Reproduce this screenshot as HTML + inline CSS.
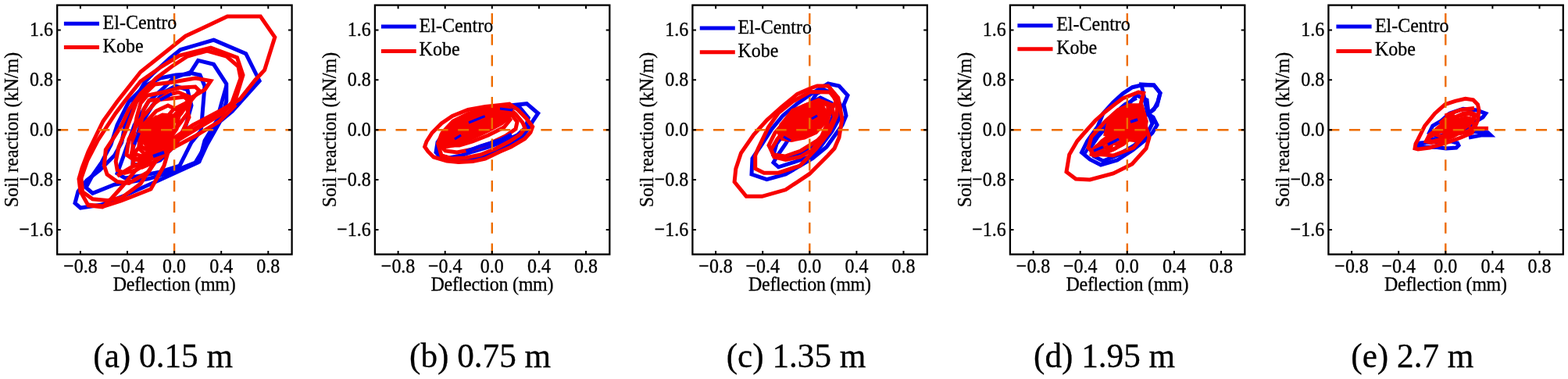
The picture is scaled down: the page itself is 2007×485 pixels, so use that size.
<!DOCTYPE html><html><head><meta charset="utf-8"><style>html,body{margin:0;padding:0;background:#fff;overflow:hidden}svg{display:block}text{font-family:"Liberation Serif", "Times New Roman", serif;fill:#000;stroke:#000;stroke-width:0.3px}</style></head><body>
<svg width="2007" height="485" viewBox="0 0 2007 485">
<rect width="2007" height="485" fill="#fff"/>
<g transform="translate(73.2,0)">
<g fill="none" stroke-width="5" stroke-linejoin="miter" stroke-miterlimit="3" stroke-linecap="butt">
<polygon stroke="#0000f0" points="200.3,51.1 241.5,68.6 258.9,103.5 224.0,142.4 208.8,155.0 191.8,185.0 181.6,207.2 154.2,219.7 131.8,230.0 86.8,250.0 56.8,262.0 29.8,266.0 22.8,260.0 26.8,245.0 37.8,230.7 54.6,217.7 73.2,199.1 82.5,182.4 86.8,160.0 95.5,134.5 103.8,120.0 112.2,104.8 121.8,95.0 143.8,75.0 157.9,63.6"/>
<polyline stroke="#0000f0" points="216.6,110.0 211.6,127.4 204.1,154.9 188.8,180.0 181.6,207.2"/>
<polygon stroke="#0000f0" points="180.4,77.3 200.3,82.3 216.6,107.3 216.6,129.7 210.8,150.0 196.8,175.0 176.8,208.0 146.8,220.0 116.8,228.8 73.2,236.2 45.4,247.4 36.8,240.0 44.8,225.0 56.8,208.0 68.8,185.0 76.8,160.0 91.8,130.0 111.8,110.0 131.8,100.0 151.8,96.0 169.2,94.8"/>
<polygon stroke="#0000f0" points="168.8,93.0 182.8,96.0 188.8,110.0 184.1,167.3 171.7,182.3 156.7,212.2 131.8,220.0 106.8,225.0 86.8,228.0 76.8,222.0 84.8,200.0 98.8,160.0 116.8,130.0 136.8,112.0 148.8,100.0"/>
<polygon stroke="#0000f0" points="151.8,110.0 166.8,115.0 171.8,135.0 164.8,160.0 151.8,185.0 131.8,205.0 111.8,212.0 96.8,210.0 96.8,190.0 106.8,160.0 121.8,135.0 136.8,118.0"/>
<polygon stroke="#f80000" points="217.8,21.0 260.2,21.0 278.6,47.6 265.4,89.8 253.8,102.0 233.8,127.0 211.8,140.0 173.8,160.0 141.8,182.0 106.8,210.0 83.8,238.0 66.8,257.0 57.8,265.0 39.8,263.0 29.8,245.0 27.8,229.0 31.8,215.0 39.8,194.0 58.8,155.0 76.8,130.0 106.8,92.0 164.2,46.2"/>
<polygon stroke="#f80000" points="196.6,61.1 230.3,73.6 237.8,96.0 226.8,132.0 201.8,150.0 174.8,165.0 141.8,185.0 122.8,210.0 106.8,235.0 82.5,253.0 63.9,256.6 45.4,254.8 32.4,245.5 30.8,228.0 38.8,205.0 51.8,180.0 74.8,145.0 86.8,129.0 106.8,104.0 133.8,85.0 156.5,71.1"/>
<polygon stroke="#f80000" points="191.8,65.0 216.8,72.0 231.8,85.0 234.8,100.0 223.8,131.0 211.8,145.0 186.8,160.0 156.8,178.0 131.8,198.0 116.8,220.0 91.8,234.4 76.9,232.5 63.9,223.2 60.2,212.0 62.1,191.7 73.2,175.0 82.5,160.0 91.8,140.0 106.8,120.0 126.8,100.0 146.8,85.0 166.8,72.0"/>
<polygon stroke="#f80000" points="196.6,103.5 189.1,114.7 171.8,125.0 156.8,140.0 138.8,160.0 124.8,185.0 116.8,208.4 101.0,217.7 86.2,221.4 76.9,217.7 75.0,206.5 78.8,188.0 88.8,165.0 101.8,130.0 124.8,108.0 148.8,105.0 176.8,100.0"/>
<polyline stroke="#f80000" points="228.8,134.0 206.8,156.0 176.8,174.0 146.8,190.0 121.8,203.0 94.8,214.0 76.8,225.0"/>
<polyline stroke="#f80000" points="39.8,262.0 59.8,264.0 81.8,257.0 119.8,242.0 136.8,212.0 141.8,195.0"/>
<polygon stroke="#f80000" points="154.8,118.0 171.8,125.0 166.8,145.0 151.8,165.0 131.8,185.0 114.8,200.0 98.8,205.0 88.8,198.0 91.8,178.0 104.8,155.0 124.8,132.0 138.8,122.0"/>
<polygon stroke="#f80000" points="141.8,135.0 156.8,142.0 152.8,165.0 138.8,185.0 121.8,200.0 104.8,206.0 94.8,198.0 98.8,180.0 111.8,158.0 126.8,142.0"/>
<polygon stroke="#f80000" points="126.8,150.0 141.8,155.0 138.8,175.0 126.8,192.0 112.8,198.0 104.8,190.0 108.8,172.0 116.8,158.0"/>
<polygon stroke="#f80000" points="164.8,132.0 168.8,150.0 158.8,172.0 144.8,192.0 126.8,206.0 108.8,214.0 96.8,210.0 98.8,196.0 112.8,178.0 131.8,160.0 148.8,140.0"/>
<polygon stroke="#f80000" points="115.2,122.2 138.7,117.3 156.0,112.3 176.8,111.0 181.8,116.0 171.8,128.0 158.8,142.0 141.8,165.0 124.8,188.0 108.8,200.0 96.8,196.0 96.8,178.0 101.8,150.0 106.8,132.0"/>
<polygon stroke="#f80000" points="117.6,128.4 146.1,126.0 162.8,124.0 168.8,130.0 158.8,145.0 141.8,165.0 126.8,185.0 114.8,192.0 104.8,186.0 106.8,160.0 110.8,140.0"/>
<polygon fill="#f80000" stroke="#f80000" points="118.8,155.0 134.8,147.0 146.8,148.0 146.8,162.0 138.8,178.0 126.8,190.0 116.8,192.0 111.8,182.0 111.8,168.0"/>
<polyline stroke="#0000f0" stroke-width="4" points="131.8,128.0 146.8,120.0"/>
<polyline stroke="#0000f0" stroke-width="4" points="98.8,185.0 104.8,170.0"/>
<polyline stroke="#0000f0" stroke-width="4" points="122.8,200.0 136.8,195.0"/>
</g>
<line x1="0" y1="166.2" x2="300.4" y2="166.2" stroke="#ee6c00" stroke-width="2.4" stroke-dasharray="14 12.56"/>
<line x1="149.9" y1="325.5" x2="149.9" y2="6.6" stroke="#ee6c00" stroke-width="2.4" stroke-dasharray="14.1 12.67"/>
<path d="M29.7 325.5V320.9M29.7 6.6V11.2M89.8 325.5V320.9M89.8 6.6V11.2M149.9 325.5V320.9M149.9 6.6V11.2M210.0 325.5V320.9M210.0 6.6V11.2M270.1 325.5V320.9M270.1 6.6V11.2M0 294.0H4.6M300.4 294.0H295.8M0 230.1H4.6M300.4 230.1H295.8M0 166.2H4.6M300.4 166.2H295.8M0 102.3H4.6M300.4 102.3H295.8M0 38.4H4.6M300.4 38.4H295.8" stroke="#000" stroke-width="2" fill="none"/>
<rect x="0" y="6.6" width="300.4" height="318.9" fill="none" stroke="#000" stroke-width="2.3"/>
<text transform="translate(29.7,348.6) scale(1,1.08)" font-size="24" text-anchor="middle">−0.8</text>
<text transform="translate(89.8,348.6) scale(1,1.08)" font-size="24" text-anchor="middle">−0.4</text>
<text transform="translate(149.9,348.6) scale(1,1.08)" font-size="24" text-anchor="middle">0.0</text>
<text transform="translate(210.0,348.6) scale(1,1.08)" font-size="24" text-anchor="middle">0.4</text>
<text transform="translate(270.1,348.6) scale(1,1.08)" font-size="24" text-anchor="middle">0.8</text>
<text transform="translate(-5.2,302.0) scale(1,1.08)" font-size="24" text-anchor="end">−1.6</text>
<text transform="translate(-5.2,238.1) scale(1,1.08)" font-size="24" text-anchor="end">−0.8</text>
<text transform="translate(-5.2,174.2) scale(1,1.08)" font-size="24" text-anchor="end">0.0</text>
<text transform="translate(-5.2,110.3) scale(1,1.08)" font-size="24" text-anchor="end">0.8</text>
<text transform="translate(-5.2,46.4) scale(1,1.08)" font-size="24" text-anchor="end">1.6</text>
<text transform="translate(149.9,371.8) scale(1,1.08)" font-size="24" letter-spacing="-0.25" text-anchor="middle">Deflection (mm)</text>
<text transform="translate(-50.1,166.1) rotate(-90) scale(1,1.08)" font-size="24" text-anchor="middle">Soil reaction (kN/m)</text>
<line x1="8.7" y1="30.3" x2="53.8" y2="30.3" stroke="#0000f0" stroke-width="5"/>
<line x1="8.7" y1="60.5" x2="53.8" y2="60.5" stroke="#f80000" stroke-width="5"/>
<text transform="translate(58.4,36.7) scale(1,1.08)" font-size="24">El-Centro</text>
<text transform="translate(58.4,66.6) scale(1,1.08)" font-size="24">Kobe</text>
</g>
<text transform="translate(119.3,469.8) scale(1,1.03)" font-size="43.2">(a) 0.15 m</text>
<g transform="translate(479.9,0)">
<g fill="none" stroke-width="5" stroke-linejoin="miter" stroke-miterlimit="3" stroke-linecap="butt">
<polygon stroke="#0000f0" points="176.8,134.5 194.3,132.7 208.8,145.0 201.5,155.9 196.1,165.0 188.1,175.0 175.1,183.0 160.1,191.0 140.1,199.0 120.1,205.0 107.1,207.0 85.1,203.0 78.1,195.0 80.1,182.0 90.1,168.0 105.1,157.0 125.1,148.0 150.1,138.0"/>
<polygon stroke="#0000f0" points="160.1,137.0 186.1,138.4 196.4,150.8 193.1,163.0 182.1,173.0 165.1,181.0 145.1,188.0 125.1,194.0 110.1,199.0 95.1,202.0 83.1,199.0 81.1,190.0 88.1,178.0 102.1,166.0 120.1,155.0 140.1,145.0"/>
<polygon fill="#f80000" stroke="#f80000" points="86.1,170.0 100.1,155.0 120.1,145.0 145.1,139.0 165.1,136.0 172.1,141.0 172.1,149.0 162.1,158.0 145.1,167.0 128.1,175.0 114.1,181.0 100.1,186.0 90.1,188.0 83.1,181.0"/>
<polygon stroke="#f80000" points="172.1,133.0 182.9,140.5 193.7,151.4 201.8,162.2 199.1,169.4 191.9,177.5 174.1,188.0 160.1,194.0 141.1,203.0 125.1,206.6 107.1,207.4 92.1,206.0 75.1,201.0 68.1,194.0 63.7,187.8 66.1,181.0 73.1,170.0 85.1,158.0 99.1,148.5 119.1,140.5 141.1,136.5 160.1,134.5"/>
<polygon stroke="#f80000" points="168.1,136.0 180.1,146.0 189.1,157.0 192.1,164.0 186.1,172.0 172.1,181.0 155.1,190.0 135.1,198.0 116.1,202.0 98.1,203.0 85.1,199.0 80.7,183.6 85.1,172.0 98.1,160.0 116.1,150.0 136.1,142.0 155.1,137.0"/>
<polygon stroke="#f80000" points="165.1,139.0 175.1,147.0 182.1,156.0 180.1,165.0 167.1,174.0 148.1,183.0 125.1,191.0 105.1,195.0 90.1,193.0 83.1,186.0 88.1,175.0 102.1,163.0 120.1,153.0 140.1,145.0"/>
<polygon stroke="#f80000" points="160.1,141.0 169.1,147.0 173.1,153.0 165.1,163.0 145.1,173.0 125.1,181.0 108.1,186.0 95.1,186.0 92.1,178.0 102.1,167.0 120.1,157.0 140.1,148.0"/>
<polyline stroke="#0000f0" points="116.8,193.9 135.1,187.0 160.1,179.4 175.1,172.0"/>
<polyline stroke="#0000f0" stroke-width="3" points="102.1,178.0 110.1,173.0"/>
<polyline stroke="#0000f0" stroke-width="3" points="120.1,157.0 140.7,148.7"/>
<polyline stroke="#0000f0" stroke-width="3" points="160.1,139.0 176.1,141.0"/>
</g>
<line x1="0" y1="166.2" x2="300.4" y2="166.2" stroke="#ee6c00" stroke-width="2.4" stroke-dasharray="14 12.56"/>
<line x1="149.9" y1="325.5" x2="149.9" y2="6.6" stroke="#ee6c00" stroke-width="2.4" stroke-dasharray="14.1 12.67"/>
<path d="M29.7 325.5V320.9M29.7 6.6V11.2M89.8 325.5V320.9M89.8 6.6V11.2M149.9 325.5V320.9M149.9 6.6V11.2M210.0 325.5V320.9M210.0 6.6V11.2M270.1 325.5V320.9M270.1 6.6V11.2M0 294.0H4.6M300.4 294.0H295.8M0 230.1H4.6M300.4 230.1H295.8M0 166.2H4.6M300.4 166.2H295.8M0 102.3H4.6M300.4 102.3H295.8M0 38.4H4.6M300.4 38.4H295.8" stroke="#000" stroke-width="2" fill="none"/>
<rect x="0" y="6.6" width="300.4" height="318.9" fill="none" stroke="#000" stroke-width="2.3"/>
<text transform="translate(29.7,348.6) scale(1,1.08)" font-size="24" text-anchor="middle">−0.8</text>
<text transform="translate(89.8,348.6) scale(1,1.08)" font-size="24" text-anchor="middle">−0.4</text>
<text transform="translate(149.9,348.6) scale(1,1.08)" font-size="24" text-anchor="middle">0.0</text>
<text transform="translate(210.0,348.6) scale(1,1.08)" font-size="24" text-anchor="middle">0.4</text>
<text transform="translate(270.1,348.6) scale(1,1.08)" font-size="24" text-anchor="middle">0.8</text>
<text transform="translate(-5.2,302.0) scale(1,1.08)" font-size="24" text-anchor="end">−1.6</text>
<text transform="translate(-5.2,238.1) scale(1,1.08)" font-size="24" text-anchor="end">−0.8</text>
<text transform="translate(-5.2,174.2) scale(1,1.08)" font-size="24" text-anchor="end">0.0</text>
<text transform="translate(-5.2,110.3) scale(1,1.08)" font-size="24" text-anchor="end">0.8</text>
<text transform="translate(-5.2,46.4) scale(1,1.08)" font-size="24" text-anchor="end">1.6</text>
<text transform="translate(149.9,371.8) scale(1,1.08)" font-size="24" letter-spacing="-0.25" text-anchor="middle">Deflection (mm)</text>
<text transform="translate(-50.1,166.1) rotate(-90) scale(1,1.08)" font-size="24" text-anchor="middle">Soil reaction (kN/m)</text>
<line x1="8.0" y1="34.1" x2="52.8" y2="34.1" stroke="#0000f0" stroke-width="5"/>
<line x1="8.0" y1="65.4" x2="52.8" y2="65.4" stroke="#f80000" stroke-width="5"/>
<text transform="translate(56.7,41.0) scale(1,1.08)" font-size="24">El-Centro</text>
<text transform="translate(56.7,71.3) scale(1,1.08)" font-size="24">Kobe</text>
</g>
<text transform="translate(524.0,469.8) scale(1,1.03)" font-size="43.2">(b) 0.75 m</text>
<g transform="translate(886.4,0)">
<g fill="none" stroke-width="5" stroke-linejoin="miter" stroke-miterlimit="3" stroke-linecap="butt">
<polygon stroke="#0000f0" points="173.6,107.0 187.6,110.0 198.6,122.0 193.6,134.0 196.6,148.0 191.6,160.0 181.6,174.0 171.6,188.0 153.6,202.7 119.3,223.0 95.1,229.6 75.6,223.0 76.6,202.7 88.6,185.0 101.6,165.0 115.6,148.0 133.6,133.0 153.6,119.0"/>
<polygon stroke="#0000f0" points="168.6,115.0 181.6,120.0 189.6,135.0 188.6,150.0 178.6,168.0 163.6,188.0 153.6,199.0 128.6,208.0 110.0,213.8 103.6,208.0 108.1,200.0 118.6,185.0 133.6,160.0 148.6,135.0 158.6,120.0"/>
<polygon stroke="#0000f0" points="163.6,125.0 177.6,132.0 179.6,150.0 171.6,168.0 157.6,184.0 137.6,196.0 113.6,202.0 103.6,198.0 107.6,184.0 121.6,165.0 138.6,145.0 151.6,132.0"/>
<polygon stroke="#f80000" points="159.6,110.0 173.6,110.0 186.4,125.2 191.5,152.1 187.6,176.0 181.6,190.0 173.0,199.2 149.5,222.7 119.2,242.8 89.0,251.3 68.8,251.3 53.7,232.8 55.4,216.0 62.1,195.8 78.4,172.4 95.1,153.8 113.7,137.1 134.1,120.4 150.8,113.0"/>
<polygon stroke="#f80000" points="150.6,117.6 175.6,118.0 185.6,130.0 184.6,148.0 175.6,168.0 158.6,190.0 137.6,212.0 110.0,221.2 91.4,221.2 80.3,215.7 80.3,199.0 84.0,190.0 97.0,163.0 110.0,144.5 128.6,129.7"/>
<polygon stroke="#f80000" points="161.6,128.0 177.6,134.0 181.6,150.0 173.6,166.0 159.6,180.0 138.6,193.0 118.6,200.0 103.6,198.0 97.6,186.0 105.6,170.0 121.6,152.0 141.6,136.0"/>
<polygon stroke="#f80000" points="153.6,191.5 137.6,200.8 119.3,204.5 104.4,200.8 100.6,191.5 108.6,178.0 123.6,160.0 143.6,140.0 161.6,130.0 173.6,135.0 171.6,160.0 163.6,178.0"/>
<polygon fill="#f80000" stroke="#f80000" points="113.5,159.5 128.3,141.4 148.1,133.2 164.6,131.5 169.6,143.0 167.9,157.9 158.0,169.5 143.2,176.0 126.6,179.4 115.1,177.7 110.2,169.5"/>
<polyline stroke="#f80000" points="175.6,112.0 183.6,130.0 175.6,145.0 171.6,160.0"/>
<polyline stroke="#0000f0" stroke-width="3" points="152.6,152.0 159.6,148.0"/>
<polyline stroke="#0000f0" stroke-width="3" points="116.6,175.0 125.6,180.0"/>
</g>
<line x1="0" y1="166.2" x2="300.4" y2="166.2" stroke="#ee6c00" stroke-width="2.4" stroke-dasharray="14 12.56"/>
<line x1="149.9" y1="325.5" x2="149.9" y2="6.6" stroke="#ee6c00" stroke-width="2.4" stroke-dasharray="14.1 12.67"/>
<path d="M29.7 325.5V320.9M29.7 6.6V11.2M89.8 325.5V320.9M89.8 6.6V11.2M149.9 325.5V320.9M149.9 6.6V11.2M210.0 325.5V320.9M210.0 6.6V11.2M270.1 325.5V320.9M270.1 6.6V11.2M0 294.0H4.6M300.4 294.0H295.8M0 230.1H4.6M300.4 230.1H295.8M0 166.2H4.6M300.4 166.2H295.8M0 102.3H4.6M300.4 102.3H295.8M0 38.4H4.6M300.4 38.4H295.8" stroke="#000" stroke-width="2" fill="none"/>
<rect x="0" y="6.6" width="300.4" height="318.9" fill="none" stroke="#000" stroke-width="2.3"/>
<text transform="translate(29.7,348.6) scale(1,1.08)" font-size="24" text-anchor="middle">−0.8</text>
<text transform="translate(89.8,348.6) scale(1,1.08)" font-size="24" text-anchor="middle">−0.4</text>
<text transform="translate(149.9,348.6) scale(1,1.08)" font-size="24" text-anchor="middle">0.0</text>
<text transform="translate(210.0,348.6) scale(1,1.08)" font-size="24" text-anchor="middle">0.4</text>
<text transform="translate(270.1,348.6) scale(1,1.08)" font-size="24" text-anchor="middle">0.8</text>
<text transform="translate(-5.2,302.0) scale(1,1.08)" font-size="24" text-anchor="end">−1.6</text>
<text transform="translate(-5.2,238.1) scale(1,1.08)" font-size="24" text-anchor="end">−0.8</text>
<text transform="translate(-5.2,174.2) scale(1,1.08)" font-size="24" text-anchor="end">0.0</text>
<text transform="translate(-5.2,110.3) scale(1,1.08)" font-size="24" text-anchor="end">0.8</text>
<text transform="translate(-5.2,46.4) scale(1,1.08)" font-size="24" text-anchor="end">1.6</text>
<text transform="translate(149.9,371.8) scale(1,1.08)" font-size="24" letter-spacing="-0.25" text-anchor="middle">Deflection (mm)</text>
<text transform="translate(-50.1,166.1) rotate(-90) scale(1,1.08)" font-size="24" text-anchor="middle">Soil reaction (kN/m)</text>
<line x1="9.4" y1="36.0" x2="54.4" y2="36.0" stroke="#0000f0" stroke-width="5"/>
<line x1="9.4" y1="66.7" x2="54.4" y2="66.7" stroke="#f80000" stroke-width="5"/>
<text transform="translate(58.0,42.9) scale(1,1.08)" font-size="24">El-Centro</text>
<text transform="translate(58.0,73.1) scale(1,1.08)" font-size="24">Kobe</text>
</g>
<text transform="translate(929.7,469.8) scale(1,1.03)" font-size="43.2">(c) 1.35 m</text>
<g transform="translate(1292.9,0)">
<g fill="none" stroke-width="5" stroke-linejoin="miter" stroke-miterlimit="3" stroke-linecap="butt">
<polygon stroke="#0000f0" points="168.1,108.0 184.1,109.0 192.1,119.0 189.1,130.0 184.1,140.0 176.1,146.0"/>
<polygon stroke="#0000f0" points="168.9,108.7 184.1,109.0 192.1,119.0 188.1,135.0 177.1,146.0 183.1,150.0 188.1,160.0 182.1,170.0 172.1,180.0 157.1,192.0 137.1,205.0 116.1,211.0 102.1,204.0 91.6,195.0 98.8,180.5 112.1,162.0 119.1,145.0 131.8,131.0 144.2,119.8 156.5,111.7"/>
<polygon stroke="#0000f0" points="162.1,122.0 175.1,128.0 177.1,145.0 182.1,158.0 175.1,172.0 159.1,186.0 139.1,198.0 119.1,206.0 107.1,200.0 102.1,190.0 112.1,175.0 127.1,158.0 145.1,140.0"/>
<polyline stroke="#0000f0" stroke-width="4" points="96.1,196.0 105.1,180.0 117.1,163.0 132.1,146.0 147.1,133.0 162.1,126.0"/>
<polygon fill="#f80000" stroke="#f80000" points="127.1,152.0 138.1,141.0 152.1,135.0 168.1,135.0 174.1,155.0 172.1,172.0 162.1,180.0 147.1,178.0 132.1,176.0 122.1,172.0"/>
<polygon stroke="#f80000" points="164.1,118.0 170.8,119.2 167.1,133.0 169.1,145.0 173.1,160.0 178.1,176.0 174.1,190.0 156.1,210.0 132.1,222.0 102.1,230.0 84.1,229.0 72.1,220.0 75.8,197.8 85.9,180.5 96.0,169.0 108.9,154.5 121.9,143.0 134.9,132.9 144.1,126.0 154.1,122.0"/>
<polygon stroke="#f80000" points="152.1,135.0 168.1,135.0 174.1,155.0 172.1,173.0 158.1,189.0 132.1,199.0 108.1,197.0 100.1,189.0 104.1,175.0 122.1,155.0 138.1,141.0"/>
<polygon stroke="#f80000" points="156.3,170.7 154.2,176.5 144.8,184.4 131.7,191.4 119.9,194.7 113.9,193.3 116.0,187.5 125.4,179.6 138.5,172.6 150.3,169.3"/>
<polygon stroke="#f80000" points="145.2,178.5 143.3,183.4 135.1,189.6 123.9,194.8 113.9,197.0 109.0,195.5 110.9,190.6 119.1,184.4 130.3,179.2 140.3,177.0"/>
<polygon stroke="#f80000" points="165.1,157.4 164.4,163.6 157.0,172.3 145.9,180.1 135.2,184.1 129.1,182.6 129.8,176.4 137.2,167.7 148.3,159.9 159.0,155.9"/>
<polygon stroke="#f80000" points="166.2,145.9 167.3,152.3 162.5,161.7 153.8,170.4 144.4,175.2 138.0,174.1 136.9,167.7 141.7,158.3 150.4,149.6 159.8,144.8"/>
<polygon stroke="#f80000" points="130.1,182.5 129.4,187.0 124.0,192.6 115.9,197.3 108.4,199.1 104.1,197.5 104.8,193.0 110.2,187.4 118.3,182.7 125.8,180.9"/>
<polygon stroke="#f80000" points="139.8,170.7 138.7,175.1 132.4,181.7 123.3,188.1 114.9,191.8 110.4,191.3 111.5,186.9 117.8,180.3 126.9,173.9 135.3,170.2"/>
<polyline stroke="#0000f0" stroke-width="3.5" points="125.1,185.0 139.1,178.0"/>
<polyline stroke="#0000f0" stroke-width="3.5" points="107.1,193.0 119.1,188.0"/>
<polyline stroke="#0000f0" stroke-width="3.5" points="154.1,156.0 163.1,153.0"/>
</g>
<line x1="0" y1="166.2" x2="300.4" y2="166.2" stroke="#ee6c00" stroke-width="2.4" stroke-dasharray="14 12.56"/>
<line x1="149.9" y1="325.5" x2="149.9" y2="6.6" stroke="#ee6c00" stroke-width="2.4" stroke-dasharray="14.1 12.67"/>
<path d="M29.7 325.5V320.9M29.7 6.6V11.2M89.8 325.5V320.9M89.8 6.6V11.2M149.9 325.5V320.9M149.9 6.6V11.2M210.0 325.5V320.9M210.0 6.6V11.2M270.1 325.5V320.9M270.1 6.6V11.2M0 294.0H4.6M300.4 294.0H295.8M0 230.1H4.6M300.4 230.1H295.8M0 166.2H4.6M300.4 166.2H295.8M0 102.3H4.6M300.4 102.3H295.8M0 38.4H4.6M300.4 38.4H295.8" stroke="#000" stroke-width="2" fill="none"/>
<rect x="0" y="6.6" width="300.4" height="318.9" fill="none" stroke="#000" stroke-width="2.3"/>
<text transform="translate(29.7,348.6) scale(1,1.08)" font-size="24" text-anchor="middle">−0.8</text>
<text transform="translate(89.8,348.6) scale(1,1.08)" font-size="24" text-anchor="middle">−0.4</text>
<text transform="translate(149.9,348.6) scale(1,1.08)" font-size="24" text-anchor="middle">0.0</text>
<text transform="translate(210.0,348.6) scale(1,1.08)" font-size="24" text-anchor="middle">0.4</text>
<text transform="translate(270.1,348.6) scale(1,1.08)" font-size="24" text-anchor="middle">0.8</text>
<text transform="translate(-5.2,302.0) scale(1,1.08)" font-size="24" text-anchor="end">−1.6</text>
<text transform="translate(-5.2,238.1) scale(1,1.08)" font-size="24" text-anchor="end">−0.8</text>
<text transform="translate(-5.2,174.2) scale(1,1.08)" font-size="24" text-anchor="end">0.0</text>
<text transform="translate(-5.2,110.3) scale(1,1.08)" font-size="24" text-anchor="end">0.8</text>
<text transform="translate(-5.2,46.4) scale(1,1.08)" font-size="24" text-anchor="end">1.6</text>
<text transform="translate(149.9,371.8) scale(1,1.08)" font-size="24" letter-spacing="-0.25" text-anchor="middle">Deflection (mm)</text>
<text transform="translate(-50.1,166.1) rotate(-90) scale(1,1.08)" font-size="24" text-anchor="middle">Soil reaction (kN/m)</text>
<line x1="9.5" y1="32.8" x2="54.6" y2="32.8" stroke="#0000f0" stroke-width="5"/>
<line x1="9.5" y1="62.8" x2="54.6" y2="62.8" stroke="#f80000" stroke-width="5"/>
<text transform="translate(59.3,38.9) scale(1,1.08)" font-size="24">El-Centro</text>
<text transform="translate(59.3,69.2) scale(1,1.08)" font-size="24">Kobe</text>
</g>
<text transform="translate(1323.0,469.8) scale(1,1.03)" font-size="43.2">(d) 1.95 m</text>
<g transform="translate(1700.4,0)">
<g fill="none" stroke-width="5" stroke-linejoin="miter" stroke-miterlimit="3" stroke-linecap="butt">
<polygon stroke="#0000f0" points="111.6,187.0 124.6,188.0 139.1,188.5 150.6,190.0 163.6,189.0 166.6,186.0 165.1,183.0 157.6,181.0 144.6,181.0 129.6,182.0 117.6,183.0"/>
<polygon stroke="#0000f0" points="155.0,145.2 172.3,139.4 189.6,141.0 201.2,145.2 197.6,150.0 183.9,158.2 169.6,164.0 154.6,170.0 139.6,175.0 129.0,170.0 133.4,161.0 143.5,155.3"/>
<polyline stroke="#0000f0" points="174.6,172.0 186.8,168.3 204.1,169.7 207.6,173.0 195.4,173.0 179.6,176.0"/>
<polygon stroke="#0000f0" points="185.4,154.8 181.6,160.7 168.7,168.7 151.5,175.6 136.6,178.9 129.8,177.2 133.6,171.3 146.5,163.3 163.7,156.4 178.6,153.1"/>
<polygon fill="#f80000" stroke="#f80000" points="144.6,168.0 155.6,160.0 169.6,154.0 179.6,152.0 179.6,160.0 169.6,166.0 155.6,171.0"/>
<polygon stroke="#f80000" points="183.6,152.5 180.1,159.3 166.8,168.7 148.9,177.1 133.1,181.2 125.6,179.5 129.1,172.7 142.4,163.3 160.3,154.9 176.1,150.8"/>
<polygon stroke="#f80000" points="187.0,148.2 184.4,155.2 173.1,164.1 157.4,171.4 143.3,174.4 136.2,171.8 138.8,164.8 150.1,155.9 165.8,148.6 179.9,145.6"/>
<polygon stroke="#f80000" points="174.0,163.1 170.6,168.1 159.1,174.6 144.0,180.1 131.0,182.5 125.2,180.9 128.6,175.9 140.1,169.4 155.2,163.9 168.2,161.5"/>
<polygon stroke="#f80000" points="187.7,146.5 186.3,152.4 178.4,159.3 167.2,164.5 156.9,166.1 151.5,163.5 152.9,157.6 160.8,150.7 172.0,145.5 182.3,143.9"/>
<polygon stroke="#f80000" points="161.9,160.0 160.7,165.5 153.3,172.7 142.6,178.9 132.6,181.7 127.3,180.0 128.5,174.5 135.9,167.3 146.6,161.1 156.6,158.3"/>
<polygon stroke="#f80000" points="187.1,158.9 185.2,163.6 178.1,168.2 168.5,170.7 160.2,170.3 156.1,167.1 158.0,162.4 165.1,157.8 174.7,155.3 183.0,155.7"/>
<polyline stroke="#f80000" points="149.2,148.0 169.4,140.5 186.6,138.5"/>
<polyline stroke="#f80000" points="142.6,158.0 151.6,150.0 161.6,147.0"/>
<polygon stroke="#f80000" points="149.2,133.7 162.2,129.3 175.2,126.4 185.3,127.9 191.1,133.7 192.6,140.9 191.1,153.9 188.2,161.0 183.6,170.0 169.6,176.0 149.6,183.0 129.6,189.0 114.6,191.0 110.6,190.0 111.6,184.0 114.6,178.4 123.3,161.0 136.2,145.2"/>
<polyline stroke="#f80000" points="179.6,164.3 204.6,164.3"/>
</g>
<line x1="0" y1="166.2" x2="300.4" y2="166.2" stroke="#ee6c00" stroke-width="2.4" stroke-dasharray="14 12.56"/>
<line x1="149.9" y1="325.5" x2="149.9" y2="6.6" stroke="#ee6c00" stroke-width="2.4" stroke-dasharray="14.1 12.67"/>
<path d="M29.7 325.5V320.9M29.7 6.6V11.2M89.8 325.5V320.9M89.8 6.6V11.2M149.9 325.5V320.9M149.9 6.6V11.2M210.0 325.5V320.9M210.0 6.6V11.2M270.1 325.5V320.9M270.1 6.6V11.2M0 294.0H4.6M300.4 294.0H295.8M0 230.1H4.6M300.4 230.1H295.8M0 166.2H4.6M300.4 166.2H295.8M0 102.3H4.6M300.4 102.3H295.8M0 38.4H4.6M300.4 38.4H295.8" stroke="#000" stroke-width="2" fill="none"/>
<rect x="0" y="6.6" width="300.4" height="318.9" fill="none" stroke="#000" stroke-width="2.3"/>
<text transform="translate(29.7,348.6) scale(1,1.08)" font-size="24" text-anchor="middle">−0.8</text>
<text transform="translate(89.8,348.6) scale(1,1.08)" font-size="24" text-anchor="middle">−0.4</text>
<text transform="translate(149.9,348.6) scale(1,1.08)" font-size="24" text-anchor="middle">0.0</text>
<text transform="translate(210.0,348.6) scale(1,1.08)" font-size="24" text-anchor="middle">0.4</text>
<text transform="translate(270.1,348.6) scale(1,1.08)" font-size="24" text-anchor="middle">0.8</text>
<text transform="translate(-5.2,302.0) scale(1,1.08)" font-size="24" text-anchor="end">−1.6</text>
<text transform="translate(-5.2,238.1) scale(1,1.08)" font-size="24" text-anchor="end">−0.8</text>
<text transform="translate(-5.2,174.2) scale(1,1.08)" font-size="24" text-anchor="end">0.0</text>
<text transform="translate(-5.2,110.3) scale(1,1.08)" font-size="24" text-anchor="end">0.8</text>
<text transform="translate(-5.2,46.4) scale(1,1.08)" font-size="24" text-anchor="end">1.6</text>
<text transform="translate(149.9,371.8) scale(1,1.08)" font-size="24" letter-spacing="-0.25" text-anchor="middle">Deflection (mm)</text>
<text transform="translate(-50.1,166.1) rotate(-90) scale(1,1.08)" font-size="24" text-anchor="middle">Soil reaction (kN/m)</text>
<line x1="10.0" y1="34.1" x2="55.2" y2="34.1" stroke="#0000f0" stroke-width="5"/>
<line x1="10.0" y1="65.4" x2="55.2" y2="65.4" stroke="#f80000" stroke-width="5"/>
<text transform="translate(59.5,41.0) scale(1,1.08)" font-size="24">El-Centro</text>
<text transform="translate(59.5,71.0) scale(1,1.08)" font-size="24">Kobe</text>
</g>
<text transform="translate(1729.3,469.8) scale(1,1.03)" font-size="43.2">(e) 2.7 m</text>
</svg></body></html>
